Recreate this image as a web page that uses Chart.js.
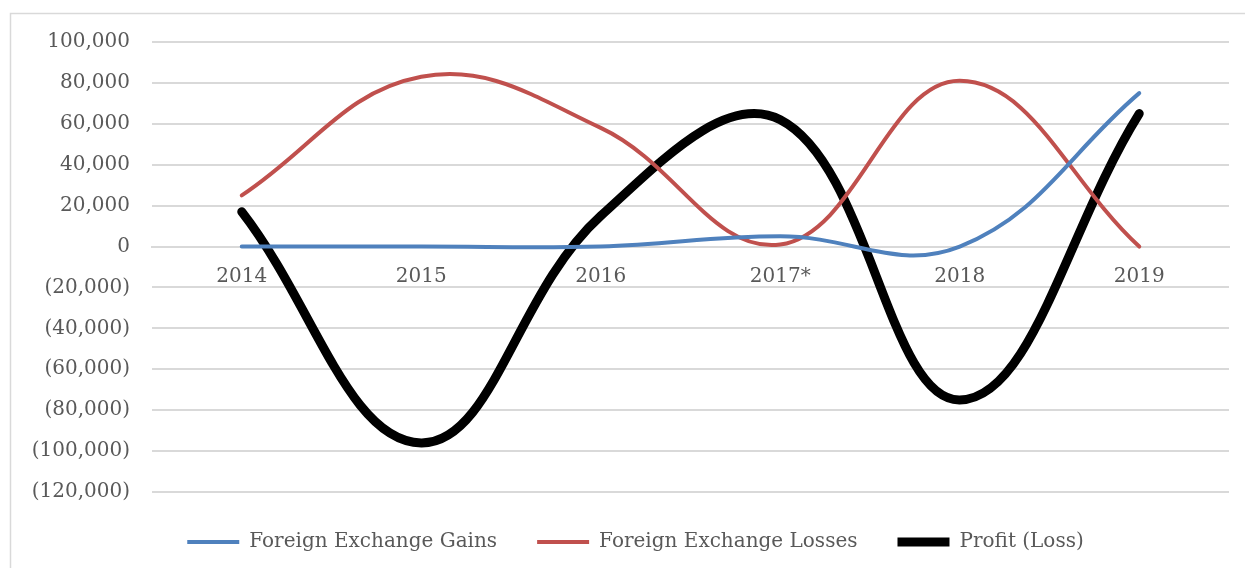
<!DOCTYPE html>
<html lang="en">
<head>
<meta charset="UTF-8">
<title>Foreign Exchange</title>
<script src="https://cdn.jsdelivr.net/npm/chart.js"></script>
<style>
    body { margin: 0; background: #fff; }
    canvas { display: block; }
</style>
</head>
<body>
<canvas id="myChart" width="1245" height="568"></canvas>
<script>
    // dados
    var anos = ['2014', '2015', '2016', '2017*', '2018', '2019'];
    var ganhos = [0, 0, 0, 5000, 0, 75000];
    var perdas = [25000, 83000, 58000, 1000, 81000, 0];
    var lucro = [17000, -96000, 15000, 62000, -75000, 65000];
    var yMin = -120000;
    var yMax = 100000;
    var yPasso = 20000;

    var fonte = { family: "'DejaVu Serif', serif", size: 20 };
    var corTexto = '#595959';

    // moldura cinza do grafico
    const moldura = {
        id: 'moldura',
        beforeDraw(chart) {
            const ctx = chart.ctx;
            ctx.save();
            ctx.strokeStyle = '#d9d9d9';
            ctx.lineWidth = 1.5;
            ctx.beginPath();
            ctx.moveTo(10.5, chart.height);
            ctx.lineTo(10.5, 13.5);
            ctx.lineTo(chart.width, 13.5);
            ctx.stroke();
            ctx.restore();
        },
        // legenda um pouco mais a direita, como no original
        afterLayout(chart) {
            chart.legend.left += 11;
            chart.legend.right += 11;
        }
    };

    function formatar(v) {
        var s = Math.abs(v).toLocaleString('en-US');
        return v < 0 ? '(' + s + ')' : s;
    }

    const config = {
        type: 'line',
        data: {
            labels: anos,
            datasets: [{
                label: 'Foreign Exchange Gains',
                data: ganhos,
                borderColor: '#4f81bd',
                backgroundColor: '#4f81bd',
                borderWidth: 4,
                tension: 0.4,
                pointRadius: 0,
                borderCapStyle: 'round'
            }, {
                label: 'Foreign Exchange Losses',
                data: perdas,
                borderColor: '#c0504d',
                backgroundColor: '#c0504d',
                borderWidth: 4,
                tension: 0.4,
                pointRadius: 0,
                borderCapStyle: 'round'
            }, {
                label: 'Profit (Loss)',
                data: lucro,
                borderColor: '#000000',
                backgroundColor: '#000000',
                borderWidth: 9,
                tension: 0.4,
                pointRadius: 0,
                borderCapStyle: 'round'
            }]
        },
        options: {
            responsive: false,
            animation: false,
            layout: { padding: { top: 42, right: 16, bottom: 6, left: 20 } },
            scales: {
                x: {
                    position: { y: 0 },
                    offset: true,
                    grid: { display: false },
                    border: { color: '#d9d9d9', width: 2 },
                    ticks: { color: corTexto, font: fonte, padding: 10, maxRotation: 0 }
                },
                y: {
                    min: yMin,
                    max: yMax,
                    afterFit: function (s) { s.width = 132; },
                    grid: { color: '#d9d9d9', lineWidth: 2, drawTicks: false },
                    border: { display: false },
                    ticks: {
                        stepSize: yPasso,
                        color: corTexto,
                        font: fonte,
                        padding: 22,
                        callback: function (v) { return formatar(v); }
                    }
                }
            },
            plugins: {
                legend: {
                    position: 'bottom',
                    labels: {
                        usePointStyle: true,
                        pointStyle: 'line',
                        pointStyleWidth: 52,
                        color: corTexto,
                        font: fonte,
                        padding: 40,
                        boxHeight: 8
                    }
                },
                tooltip: { enabled: false }
            }
        },
        plugins: [moldura]
    };

    let myChart = new Chart(document.getElementById('myChart'), config);
</script>
</body>
</html>
